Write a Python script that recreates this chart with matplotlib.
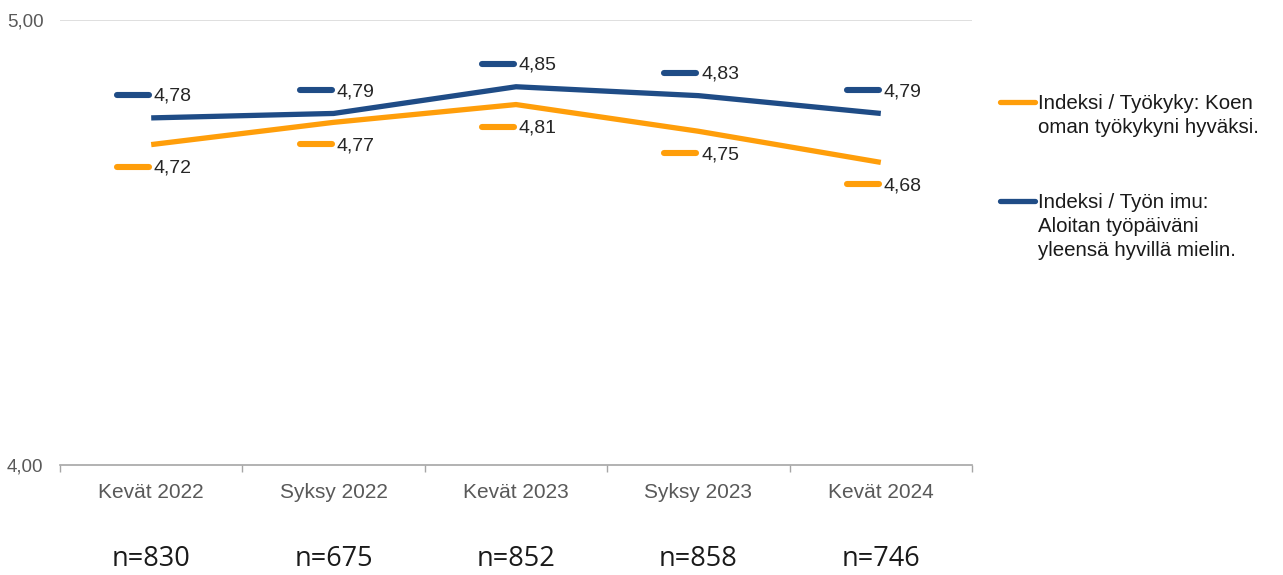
import matplotlib

matplotlib.use("Agg")

import matplotlib.pyplot as plt
from matplotlib.lines import Line2D
from matplotlib.markers import MarkerStyle
from matplotlib.transforms import offset_copy, blended_transform_factory

plt.rcParams["font.family"] = ["Liberation Sans", "DejaVu Sans"]

periods = ["Kevät 2022", "Syksy 2022", "Kevät 2023", "Syksy 2023", "Kevät 2024"]
sample_sizes = [830, 675, 852, 858, 746]
tyokyky = [4.72, 4.77, 4.81, 4.75, 4.68]
tyon_imu = [4.78, 4.79, 4.85, 4.83, 4.79]
series_labels = [
    "Indeksi / Työkyky: Koen\noman työkykyni hyväksi.",
    "Indeksi / Työn imu:\nAloitan työpäiväni\nyleensä hyvillä mielin.",
]

ORANGE = "#FF9E0A"
NAVY = "#1F4C86"
GREY_TXT = "#595959"

W, H = 1283, 575
fig = plt.figure(figsize=(W / 100, H / 100), dpi=100)
ax = fig.add_axes([60 / W, 1 - 465 / H, 912 / W, 445 / H])

x = list(range(len(periods)))
ax.plot(x, tyokyky, color=ORANGE, lw=3.8, solid_capstyle="butt", zorder=3)
ax.plot(x, tyon_imu, color=NAVY, lw=3.8, solid_capstyle="butt", zorder=3)

# data labels: short legend-key dash plus the value, below orange / above navy
dash = MarkerStyle("_", capstyle="round")
for values, color, dy in ((tyokyky, ORANGE, -22), (tyon_imu, NAVY, 23)):
    key_tr = offset_copy(ax.transData, fig=fig, x=-18, y=dy, units="dots")
    ax.plot(x, values, ls="none", marker=dash, ms=23, mew=4.4, color=color,
            transform=key_tr, clip_on=False, zorder=4)
    for xi, v in zip(x, values):
        ax.annotate(f"{v:.2f}".replace(".", ","), (xi, v), xytext=(2, dy * 0.72 - 1),
                    textcoords="offset points", ha="left", va="center",
                    fontsize=14, color="#262626")

ax.set_xlim(-0.5, len(periods) - 0.5)
ax.set_ylim(4.0, 5.0)
ax.set_yticks([4.0, 5.0])
ax.set_yticklabels(["4,00", "5,00"], fontsize=13.5, color=GREY_TXT)
ax.set_xticks(x)
ax.set_xticklabels(periods, fontsize=15, color=GREY_TXT)
ax.set_xticks([i - 0.5 for i in range(len(periods) + 1)], minor=True)
ax.tick_params(axis="x", which="major", length=0, pad=13)
ax.tick_params(axis="x", which="minor", length=5, width=1, color="#A6A6A6", direction="out")
ax.tick_params(axis="y", length=0, pad=12)

for side in ("top", "right", "left"):
    ax.spines[side].set_visible(False)
ax.spines["bottom"].set_color("#A6A6A6")
ax.spines["bottom"].set_linewidth(1.2)
ax.axhline(5.0, color="#D9D9D9", lw=1.2, zorder=1)

# respondent counts under each period
tr = blended_transform_factory(ax.transData, ax.transAxes)
for xi, n in zip(x, sample_sizes):
    ax.text(xi, (465 - 566) / 445, f"n={n}", transform=tr, ha="center", va="baseline",
            fontsize=19.5, family="Open Sans", color="#1A1A1A")

# legend to the right of the plot area; handle sits beside the first text line
for label, color, y_key, y_base in zip(series_labels, (ORANGE, NAVY), (102, 201), (109, 208)):
    fig.add_artist(Line2D([1000 / W, 1035 / W], [1 - y_key / H] * 2, color=color,
                          lw=3.8, solid_capstyle="round", transform=fig.transFigure))
    for k, line in enumerate(label.split("\n")):
        fig.text(1038 / W, 1 - (y_base + 24 * k) / H, line, ha="left", va="baseline",
                 fontsize=14.8, color="#1A1A1A", transform=fig.transFigure)

fig.savefig("out.png", dpi=100)
